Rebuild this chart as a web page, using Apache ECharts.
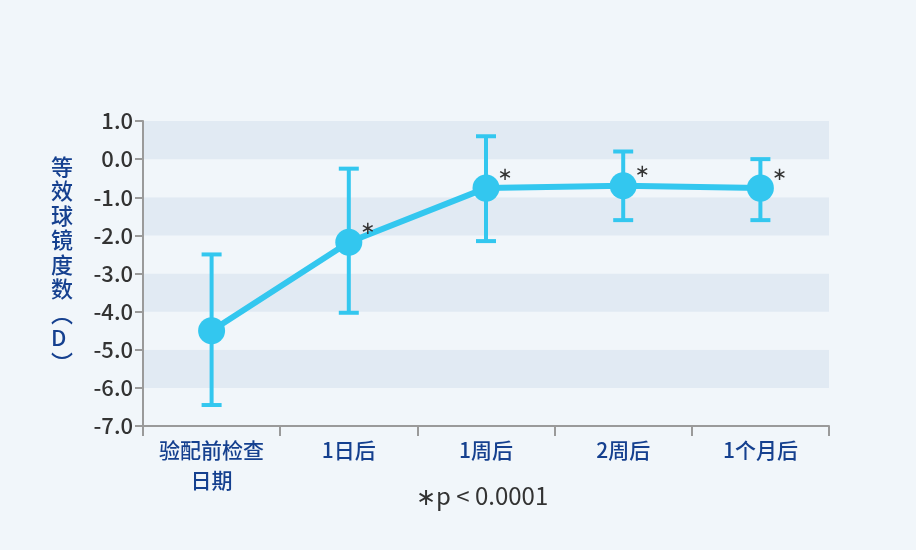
<!DOCTYPE html>
<html lang="zh">
<head>
    <meta charset="UTF-8">
    <script type="text/javascript" src="https://cdn.jsdelivr.net/npm/echarts@6/dist/echarts.min.js"></script>
    <style>
        html, body { margin: 0; padding: 0; background: #f1f6fa; }
        #chart { width: 916px; height: 550px; }
    </style>
</head>
<body>
<div id="chart"></div>
<script type="text/javascript">
    // 数据
    var categories = ['验配前检查\n日期', '1日后', '1周后', '2周后', '1个月后'];
    var meanValues = [-4.5, -2.18, -0.76, -0.7, -0.76];
    var lowValues = [-6.45, -4.03, -2.15, -1.6, -1.6];
    var highValues = [-2.5, -0.25, 0.6, 0.2, 0.0];
    var marks = ['', '∗', '∗', '∗', '∗'];
    var yTicks = [1, 0, -1, -2, -3, -4, -5, -6, -7];

    var blue = '#33c7ef';
    var navy = '#15408f';
    var font = '"Noto Sans CJK SC", "Noto Sans", sans-serif';

    var errorData = categories.map(function (c, i) {
        return [i, lowValues[i], highValues[i]];
    });

    var option = {
        backgroundColor: '#f1f6fa',
        animation: false,
        grid: { left: 143, right: 87, top: 121, bottom: 124 },
        xAxis: {
            type: 'category',
            data: categories,
            boundaryGap: true,
            axisLine: { onZero: false, lineStyle: { color: '#9a9a9a', width: 2 } },
            axisTick: { show: true, length: 10, lineStyle: { color: '#9a9a9a', width: 2 } },
            axisLabel: { color: navy, fontSize: 21, fontWeight: 500, fontFamily: font, lineHeight: 30, margin: 9 }
        },
        yAxis: {
            type: 'value',
            min: yTicks[yTicks.length - 1],
            max: yTicks[0],
            interval: 1,
            axisLine: { show: true, lineStyle: { color: '#9a9a9a', width: 2 } },
            axisTick: { show: true, length: 8, lineStyle: { color: '#9a9a9a', width: 2 } },
            axisLabel: {
                color: '#333', fontSize: 22, fontWeight: 500, fontFamily: font, margin: 10,
                formatter: function (v) { return v.toFixed(1); }
            },
            splitLine: { show: false },
            splitArea: { show: true, areaStyle: { color: ['#f1f6fa', '#e1eaf3'] } }
        },
        series: [
            {
                type: 'custom',
                data: errorData,
                z: 3,
                renderItem: function (params, api) {
                    var top = api.coord([api.value(0), api.value(2)]);
                    var bot = api.coord([api.value(0), api.value(1)]);
                    var w = 10;
                    var st = { stroke: blue, lineWidth: 4 };
                    return {
                        type: 'group',
                        children: [
                            { type: 'line', shape: { x1: top[0], y1: top[1], x2: bot[0], y2: bot[1] }, style: st },
                            { type: 'line', shape: { x1: top[0] - w, y1: top[1], x2: top[0] + w, y2: top[1] }, style: st },
                            { type: 'line', shape: { x1: bot[0] - w, y1: bot[1], x2: bot[0] + w, y2: bot[1] }, style: st }
                        ]
                    };
                }
            },
            {
                type: 'line',
                data: meanValues,
                z: 4,
                symbol: 'circle',
                symbolSize: 27,
                itemStyle: { color: blue },
                lineStyle: { color: blue, width: 6 },
                label: {
                    show: true,
                    position: 'right',
                    offset: [-7, -13],
                    color: '#333',
                    fontSize: 18,
                    fontFamily: '"DejaVu Sans", sans-serif',
                    formatter: function (p) { return marks[p.dataIndex]; }
                }
            }
        ],
        graphic: [
            {
                type: 'text',
                left: 51,
                top: 154,
                style: {
                    text: '等\n效\n球\n镜\n度\n数\n︵\nD\n︶',
                    fill: navy,
                    font: '500 22px ' + font,
                    lineHeight: 24.5,
                    align: 'center'
                }
            },
            {
                type: 'text',
                left: 416,
                top: 484,
                style: {
                    text: '∗p < 0.0001',
                    fill: '#333',
                    font: '24px ' + font
                }
            }
        ]
    };

    var chart = echarts.init(document.getElementById('chart'));
    chart.setOption(option);
</script>
</body>
</html>
